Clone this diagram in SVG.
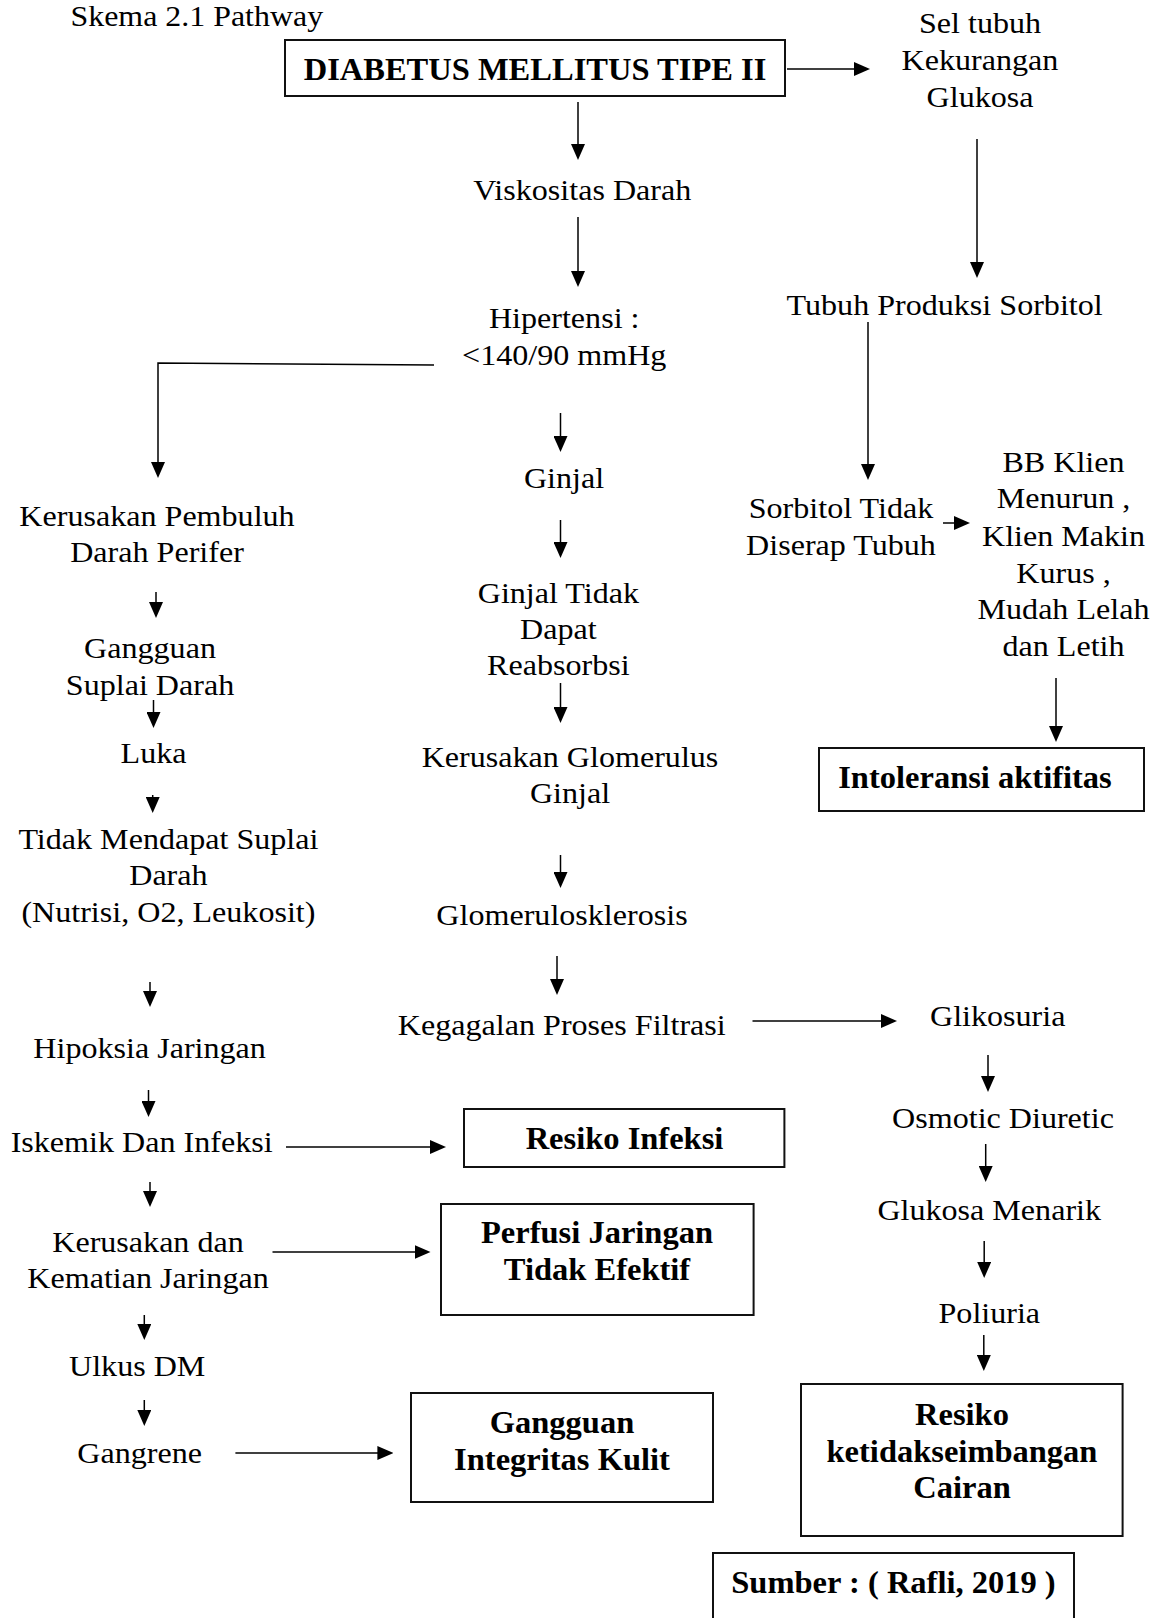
<svg xmlns="http://www.w3.org/2000/svg" width="1168" height="1618" viewBox="0 0 1168 1618">
<style>
.t{font-family:"Liberation Serif","Times New Roman",serif;font-size:30px;fill:#000;text-anchor:middle}
.b{font-family:"Liberation Serif","Times New Roman",serif;font-size:32.5px;font-weight:bold;fill:#000;text-anchor:middle}
.box{fill:none;stroke:#111;stroke-width:2}
.c{fill:none;stroke:#000;stroke-width:1.5;marker-end:url(#ah)}
</style>
<defs>
<marker id="ah" viewBox="0 0 16 14" refX="8" refY="7" markerWidth="16" markerHeight="14" markerUnits="userSpaceOnUse" orient="auto"><path d="M0,0 L16,7 L0,14 z" fill="#000"/></marker>
</defs>
<rect width="1168" height="1618" fill="#fff"/>
<text class="t" style="text-anchor:start;font-size:28.5px" transform="translate(70.5,0) scale(1.12,1)"><tspan x="0" y="26">Skema 2.1 Pathway</tspan></text>

<g id="connectors">
<line class="c" x1="787" y1="69" x2="862" y2="69"/>
<line class="c" x1="578" y1="102" x2="578" y2="152"/>
<line class="c" x1="578" y1="217" x2="578" y2="279"/>
<polyline class="c" points="434,365 158,363 158,470"/>
<line class="c" x1="560.5" y1="413" x2="560.5" y2="444"/>
<line class="c" x1="560.5" y1="520" x2="560.5" y2="550"/>
<line class="c" x1="560.5" y1="683" x2="560.5" y2="715"/>
<line class="c" x1="560.5" y1="855" x2="560.5" y2="880"/>
<line class="c" x1="557" y1="956" x2="557" y2="987"/>
<line class="c" x1="752.5" y1="1021" x2="889" y2="1021"/>
<line class="c" x1="988" y1="1055" x2="988" y2="1084"/>
<line class="c" x1="985.7" y1="1144" x2="985.7" y2="1174"/>
<line class="c" x1="984.2" y1="1241" x2="984.2" y2="1270"/>
<line class="c" x1="983.8" y1="1335" x2="983.8" y2="1363"/>
<line class="c" x1="977" y1="139" x2="977" y2="270"/>
<line class="c" x1="868" y1="322" x2="868" y2="472"/>
<line class="c" x1="943" y1="523" x2="962" y2="523"/>
<line class="c" x1="1056" y1="678" x2="1056" y2="734"/>
<line class="c" x1="156" y1="592" x2="156" y2="610"/>
<line class="c" x1="153.5" y1="700" x2="153.5" y2="720"/>
<line class="c" x1="152.7" y1="795" x2="152.7" y2="805"/>
<line class="c" x1="150" y1="982" x2="150" y2="999"/>
<line class="c" x1="148.5" y1="1090" x2="148.5" y2="1109"/>
<line class="c" x1="286" y1="1147" x2="438" y2="1147"/>
<line class="c" x1="150" y1="1182" x2="150" y2="1199"/>
<line class="c" x1="272.5" y1="1252" x2="422.5" y2="1252"/>
<line class="c" x1="144.3" y1="1315" x2="144.3" y2="1332"/>
<line class="c" x1="144.3" y1="1400" x2="144.3" y2="1418"/>
<line class="c" x1="235.4" y1="1453" x2="385.4" y2="1453"/>
</g>

<g id="n-dm"><rect class="box" x="285" y="40" width="500" height="56"/><text class="b" x="535" y="80">DIABETUS MELLITUS TIPE II</text></g>
<g id="n-sel"><text class="t" transform="translate(980,0) scale(1.07,1)"><tspan x="0" y="33.3">Sel tubuh</tspan><tspan x="0" y="70">Kekurangan</tspan><tspan x="0" y="106.7">Glukosa</tspan></text></g>
<g id="n-visko"><text class="t" transform="translate(582.2,0) scale(1.07,1)"><tspan x="0" y="200">Viskositas Darah</tspan></text></g>
<g id="n-hiper"><text class="t" transform="translate(564.2,0) scale(1.07,1)"><tspan x="0" y="328.3">Hipertensi :</tspan><tspan x="0" y="365">&lt;140/90 mmHg</tspan></text></g>
<g id="n-sorbitol"><text class="t" transform="translate(944.6,0) scale(1.07,1)"><tspan x="0" y="315">Tubuh Produksi Sorbitol</tspan></text></g>
<g id="n-ginjal"><text class="t" transform="translate(564,0) scale(1.07,1)"><tspan x="0" y="488.3">Ginjal</tspan></text></g>
<g id="n-ginjal-tidak"><text class="t" transform="translate(558.4,0) scale(1.07,1)"><tspan x="0" y="602.7">Ginjal Tidak</tspan><tspan x="0" y="639.3">Dapat</tspan><tspan x="0" y="675">Reabsorbsi</tspan></text></g>
<g id="n-glom"><text class="t" transform="translate(570,0) scale(1.07,1)"><tspan x="0" y="766.7">Kerusakan Glomerulus</tspan><tspan x="0" y="803.3">Ginjal</tspan></text></g>
<g id="n-sklerosis"><text class="t" transform="translate(562,0) scale(1.07,1)"><tspan x="0" y="925">Glomerulosklerosis</tspan></text></g>
<g id="n-filtrasi"><text class="t" transform="translate(561.8,0) scale(1.07,1)"><tspan x="0" y="1035">Kegagalan Proses Filtrasi</tspan></text></g>
<g id="n-glikosuria"><text class="t" transform="translate(997.7,0) scale(1.07,1)"><tspan x="0" y="1026">Glikosuria</tspan></text></g>
<g id="n-osmotic"><text class="t" transform="translate(1003,0) scale(1.07,1)"><tspan x="0" y="1128.3">Osmotic Diuretic</tspan></text></g>
<g id="n-glukosa"><text class="t" transform="translate(989.2,0) scale(1.07,1)"><tspan x="0" y="1220">Glukosa Menarik</tspan></text></g>
<g id="n-poliuria"><text class="t" transform="translate(989.3,0) scale(1.07,1)"><tspan x="0" y="1323.3">Poliuria</tspan></text></g>
<g id="n-sorbitol-tidak"><text class="t" transform="translate(841,0) scale(1.07,1)"><tspan x="0" y="518.3">Sorbitol Tidak</tspan><tspan x="0" y="555">Diserap Tubuh</tspan></text></g>
<g id="n-bb"><text class="t" transform="translate(1063.5,0) scale(1.07,1)"><tspan x="0" y="471.7">BB Klien</tspan><tspan x="0" y="508.3">Menurun ,</tspan><tspan x="0" y="545.7">Klien Makin</tspan><tspan x="0" y="582.7">Kurus ,</tspan><tspan x="0" y="619.3">Mudah Lelah</tspan><tspan x="0" y="656">dan Letih</tspan></text></g>
<g id="n-intoleransi"><rect class="box" x="819" y="748" width="325" height="63"/><text class="b" x="975" y="788.3">Intoleransi aktifitas</text></g>
<g id="n-pembuluh"><text class="t" transform="translate(157,0) scale(1.07,1)"><tspan x="0" y="526">Kerusakan Pembuluh</tspan><tspan x="0" y="562.5">Darah Perifer</tspan></text></g>
<g id="n-gangguan-suplai"><text class="t" transform="translate(150,0) scale(1.07,1)"><tspan x="0" y="658">Gangguan</tspan><tspan x="0" y="695">Suplai Darah</tspan></text></g>
<g id="n-luka"><text class="t" transform="translate(153.5,0) scale(1.07,1)"><tspan x="0" y="763">Luka</tspan></text></g>
<g id="n-tidak-suplai"><text class="t" transform="translate(168.4,0) scale(1.07,1)"><tspan x="0" y="849">Tidak Mendapat Suplai</tspan><tspan x="0" y="885">Darah</tspan><tspan x="0" y="921.7">(Nutrisi, O2, Leukosit)</tspan></text></g>
<g id="n-hipoksia"><text class="t" transform="translate(149.6,0) scale(1.07,1)"><tspan x="0" y="1058">Hipoksia Jaringan</tspan></text></g>
<g id="n-iskemik"><text class="t" transform="translate(141.6,0) scale(1.07,1)"><tspan x="0" y="1151.7">Iskemik Dan Infeksi</tspan></text></g>
<g id="n-resiko-infeksi"><rect class="box" x="464" y="1109" width="320.4" height="58"/><text class="b" x="624.5" y="1148.5">Resiko Infeksi</text></g>
<g id="n-kematian"><text class="t" transform="translate(148,0) scale(1.07,1)"><tspan x="0" y="1251.7">Kerusakan dan</tspan><tspan x="0" y="1288">Kematian Jaringan</tspan></text></g>
<g id="n-perfusi"><rect class="box" x="441" y="1204" width="312.6" height="111"/><text class="b"><tspan x="597" y="1243.3">Perfusi Jaringan</tspan><tspan x="597" y="1280">Tidak Efektif</tspan></text></g>
<g id="n-ulkus"><text class="t" transform="translate(137.2,0) scale(1.07,1)"><tspan x="0" y="1376">Ulkus DM</tspan></text></g>
<g id="n-gangrene"><text class="t" transform="translate(139.7,0) scale(1.07,1)"><tspan x="0" y="1462.7">Gangrene</tspan></text></g>
<g id="n-integritas"><rect class="box" x="411" y="1393" width="302" height="109"/><text class="b"><tspan x="562" y="1433.3">Gangguan</tspan><tspan x="562" y="1470">Integritas Kulit</tspan></text></g>
<g id="n-cairan"><rect class="box" x="801" y="1384" width="321.6" height="152"/><text class="b"><tspan x="962" y="1425">Resiko</tspan><tspan x="962" y="1461.7">ketidakseimbangan</tspan><tspan x="962" y="1497.7">Cairan</tspan></text></g>
<g id="n-sumber"><rect class="box" x="713" y="1553" width="361" height="80"/><text class="b" x="893.5" y="1593.3">Sumber : ( Rafli, 2019 )</text></g>
</svg>
